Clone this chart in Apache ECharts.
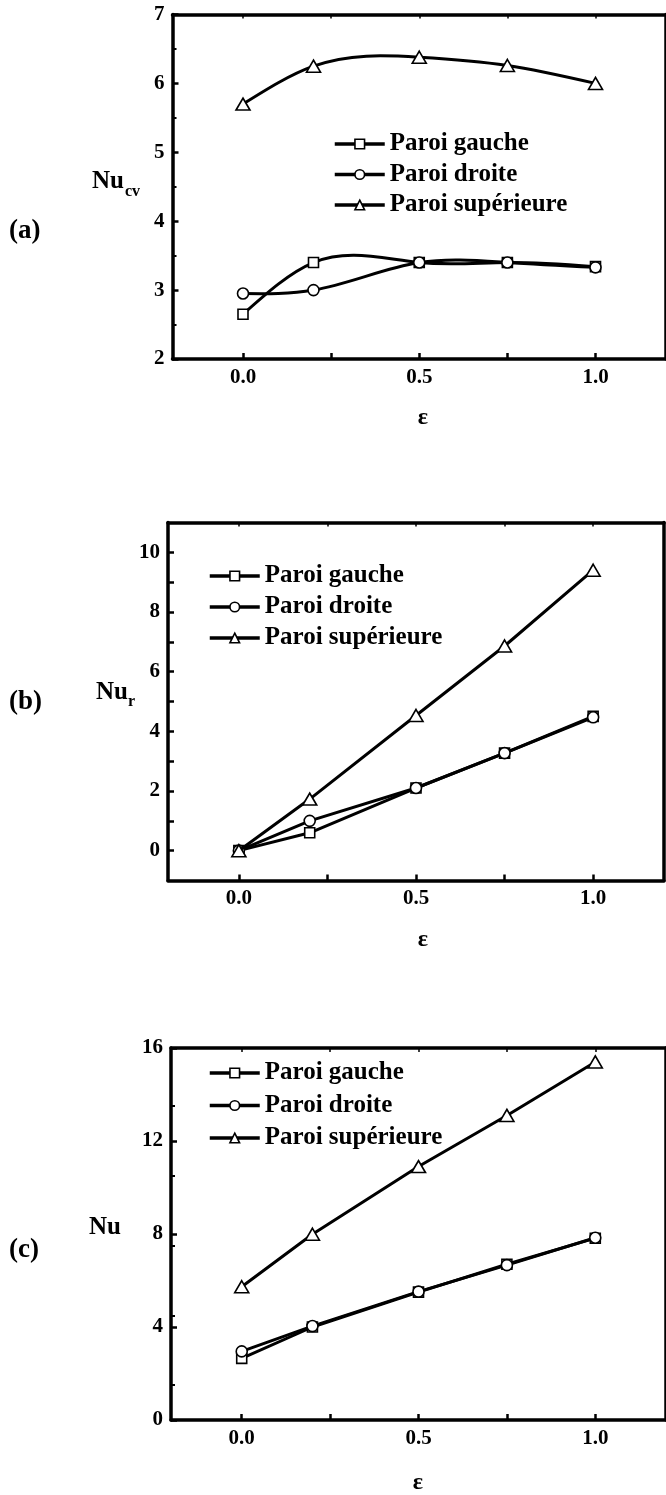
<!DOCTYPE html>
<html>
<head>
<meta charset="utf-8">
<script src="https://cdn.jsdelivr.net/npm/echarts@6/dist/echarts.min.js"></script>
<style>
html,body{margin:0;padding:0;background:#fff;}
#chart{width:666px;height:1495px;}
</style>
</head>
<body>
<div id="chart"></div>
<script>
// ---- data ----
const epsilon = [0, 0.2, 0.5, 0.75, 1.0];
const seriesNames = ['Paroi gauche', 'Paroi droite', 'Paroi supérieure'];
// (a) Nu_cv
const nuCvGauche = [2.65, 3.4, 3.4, 3.4, 3.34];
const nuCvDroite = [2.95, 3.0, 3.4, 3.4, 3.33];
const nuCvSup    = [5.7, 6.25, 6.38, 6.26, 6.0];
// (b) Nu_r
const nuRGauche = [0, 0.6, 2.1, 3.27, 4.5];
const nuRDroite = [0, 1.0, 2.1, 3.27, 4.47];
const nuRSup    = [0, 1.73, 4.53, 6.86, 9.4];
// (c) Nu
const nuGauche = [2.65, 4.0, 5.5, 6.7, 7.82];
const nuDroite = [2.95, 4.04, 5.52, 6.66, 7.84];
const nuSup    = [5.73, 7.99, 10.9, 13.1, 15.4];
// tick labels
const xTickLabels = [0, 0.5, 1.0];
const xTickMarks = [0, 0.25, 0.5, 0.75, 1.0];
const yTicksA = [2, 3, 4, 5, 6, 7];
const yTicksB = [0, 2, 4, 6, 8, 10];
const yTicksBMarks = [0, 1, 2, 3, 4, 5, 6, 7, 8, 9, 10];
const yTicksC = [0, 4, 8, 12, 16];

// ---- styling helpers ----
const FONT = '"Liberation Serif", "Times New Roman", serif';
const symbols = ['rect', 'circle', 'triangle'];
const symbolSizes = [10, 11, [14, 12]];

function pairs(ys) { return epsilon.map((x, i) => [x, ys[i]]); }

// natural cubic spline derivatives (rendering helper for the smooth curves of panel a)
function splineSlopes(xs, ys) {
  const n = xs.length - 1;
  const h = [];
  for (let i = 0; i < n; i++) h.push(xs[i + 1] - xs[i]);
  const M = new Array(n + 1).fill(0);
  const a = [], b = [], c = [], d = [];
  for (let i = 1; i < n; i++) {
    a.push(h[i - 1]); b.push(2 * (h[i - 1] + h[i])); c.push(h[i]);
    d.push(6 * ((ys[i + 1] - ys[i]) / h[i] - (ys[i] - ys[i - 1]) / h[i - 1]));
  }
  const m = b.length;
  for (let i = 1; i < m; i++) {
    const w = a[i] / b[i - 1];
    b[i] -= w * c[i - 1]; d[i] -= w * d[i - 1];
  }
  const sol = new Array(m).fill(0);
  for (let i = m - 1; i >= 0; i--) sol[i] = (d[i] - (i < m - 1 ? c[i] * sol[i + 1] : 0)) / b[i];
  for (let i = 1; i < n; i++) M[i] = sol[i - 1];
  const segs = [];
  for (let i = 0; i < n; i++) {
    const s = (ys[i + 1] - ys[i]) / h[i];
    segs.push({
      dL: s - h[i] * (2 * M[i] + M[i + 1]) / 6,
      dR: s + h[i] * (M[i] + 2 * M[i + 1]) / 6
    });
  }
  return segs;
}

function splineSeries(ys, axisIdx) {
  const segs = splineSlopes(epsilon, ys);
  return {
    type: 'custom', coordinateSystem: 'cartesian2d',
    xAxisIndex: axisIdx, yAxisIndex: axisIdx, silent: true, z: 2,
    data: pairs(ys),
    renderItem: function (params, api) {
      if (params.dataIndex !== 0) return null;
      const children = [];
      for (let i = 0; i < epsilon.length - 1; i++) {
        const h = epsilon[i + 1] - epsilon[i];
        const p0 = api.coord([epsilon[i], ys[i]]);
        const p1 = api.coord([epsilon[i] + h / 3, ys[i] + h / 3 * segs[i].dL]);
        const p2 = api.coord([epsilon[i + 1] - h / 3, ys[i + 1] - h / 3 * segs[i].dR]);
        const p3 = api.coord([epsilon[i + 1], ys[i + 1]]);
        children.push({
          type: 'bezierCurve',
          shape: {x1: p0[0], y1: p0[1], cpx1: p1[0], cpy1: p1[1], cpx2: p2[0], cpy2: p2[1], x2: p3[0], y2: p3[1]},
          style: {stroke: '#000', lineWidth: 3, fill: null}
        });
      }
      return {type: 'group', children: children};
    }
  };
}

const chart = echarts.init(document.getElementById('chart'), null, {renderer: 'canvas'});

const grids = [
  {left: 172.5, top: 14.5, width: 501, height: 344.5},
  {left: 168, top: 522.5, width: 496, height: 358},
  {left: 171, top: 1048, width: 497, height: 372}
];

const yDefs = [
  {min: 2, max: 7, labels: yTicksA, marks: yTicksA, minor: true},
  {min: -1, max: 11, labels: yTicksB, marks: yTicksBMarks, minor: false},
  {min: 0, max: 16, labels: yTicksC, marks: yTicksC, minor: true}
];

const xAxes = [], yAxes = [];
grids.forEach((g, i) => {
  xAxes.push({
    type: 'value', gridIndex: i, min: -0.2, max: 1.2, position: 'bottom',
    axisLine: {show: true, onZero: false, lineStyle: {color: '#000', width: 3.5}},
    axisTick: {show: true, inside: true, length: 6, lineStyle: {color: '#000', width: 2.5}, customValues: xTickMarks},
    axisLabel: {show: true, margin: 8, customValues: xTickLabels, formatter: v => Number(v).toFixed(1),
      color: '#000', fontFamily: FONT, fontWeight: 'bold', fontSize: 21},
    splitLine: {show: false}
  });
  xAxes.push({
    type: 'value', gridIndex: i, min: -0.2, max: 1.2, position: 'top',
    axisLine: {show: true, onZero: false, lineStyle: {color: '#000', width: 3.5}},
    axisTick: {show: true, inside: true, length: 4, lineStyle: {color: '#000', width: 1.5}, customValues: xTickMarks},
    axisLabel: {show: false},
    splitLine: {show: false}
  });
  const d = yDefs[i];
  yAxes.push({
    type: 'value', gridIndex: i, min: d.min, max: d.max, position: 'left',
    axisLine: {show: true, onZero: false, lineStyle: {color: '#000', width: 3.5}},
    axisTick: {show: true, inside: true, length: 6, lineStyle: {color: '#000', width: 2.5}, customValues: d.marks},
    minorTick: {show: d.minor, splitNumber: 2, length: 4, lineStyle: {color: '#000', width: 2}},
    axisLabel: {show: true, margin: 8, customValues: d.labels, formatter: v => String(v),
      color: '#000', fontFamily: FONT, fontWeight: 'bold', fontSize: 21},
    splitLine: {show: false}, minorSplitLine: {show: false}
  });
  yAxes.push({
    type: 'value', gridIndex: i, min: d.min, max: d.max, position: 'right',
    axisLine: {show: true, onZero: false, lineStyle: {color: '#000', width: 3.5}},
    axisTick: {show: false}, axisLabel: {show: false}, splitLine: {show: false}
  });
});

const panelData = [
  [nuCvGauche, nuCvDroite, nuCvSup],
  [nuRGauche, nuRDroite, nuRSup],
  [nuGauche, nuDroite, nuSup]
];

const series = [];
panelData.forEach((arrs, p) => {
  arrs.forEach((ys, k) => {
    const curved = (p === 0);
    series.push({
      type: 'line', name: seriesNames[k],
      xAxisIndex: p * 2, yAxisIndex: p * 2,
      data: pairs(ys),
      smooth: false,
      symbol: symbols[k], symbolSize: symbolSizes[k], showAllSymbol: true,
      lineStyle: {color: '#000', width: curved ? 0 : 3, opacity: curved ? 0 : 1},
      itemStyle: {color: '#fff', borderColor: '#000', borderWidth: 1.6},
      emphasis: {disabled: true},
      z: 3 + k
    });
    if (curved) series.push(splineSeries(ys, p * 2));
  });
});

function legend(left, top, gap) {
  return {
    orient: 'vertical', left: left, top: top, itemWidth: 50, itemHeight: 12, itemGap: gap,
    data: seriesNames, selectedMode: false,
    lineStyle: {color: '#000', width: 3.5, opacity: 1},
    itemStyle: {color: '#fff', borderColor: '#000', borderWidth: 1.6},
    textStyle: {color: '#000', fontFamily: FONT, fontWeight: 'bold', fontSize: 25, lineHeight: 26}
  };
}

function txt(text, x, y, size, align) {
  return {type: 'text', x: x, y: y, silent: true,
    style: {text: text, fill: '#000', font: 'bold ' + size + 'px ' + FONT, textAlign: align || 'left', textVerticalAlign: 'middle'}};
}

chart.setOption({
  animation: false,
  backgroundColor: '#fff',
  grid: grids,
  xAxis: xAxes,
  yAxis: yAxes,
  legend: [legend(328, 126, 4.5), legend(203, 558, 5), legend(203, 1055, 6.5)],
  series: series,
  graphic: [
    txt('(a)', 9, 231, 27), txt('Nu', 92, 182, 25), txt('cv', 125, 192, 16),
    txt('ε', 423, 418, 24, 'center'),
    txt('(b)', 9, 702, 27), txt('Nu', 96, 693, 25), txt('r', 128, 702, 16),
    txt('ε', 423, 940, 24, 'center'),
    txt('(c)', 9, 1250, 27), txt('Nu', 89, 1228, 25),
    txt('ε', 418, 1483, 24, 'center')
  ]
});
</script>
</body>
</html>
